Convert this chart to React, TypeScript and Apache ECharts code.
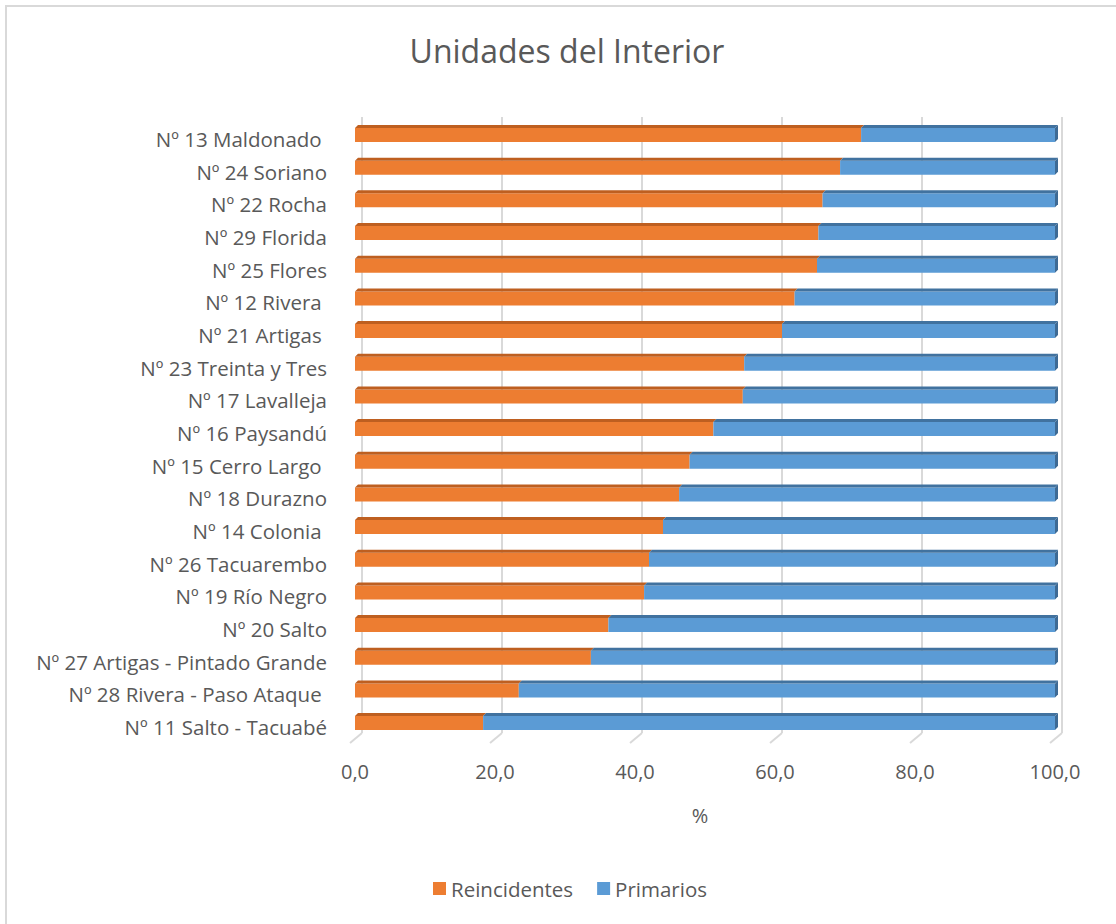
import React, { useEffect, useRef } from "react";
import * as echarts from "echarts";

const categories = [
  "Nº 13 Maldonado ",
  "Nº 24 Soriano",
  "Nº 22 Rocha",
  "Nº 29 Florida",
  "Nº 25 Flores",
  "Nº 12 Rivera ",
  "Nº 21 Artigas ",
  "Nº 23 Treinta y Tres",
  "Nº 17 Lavalleja",
  "Nº 16 Paysandú",
  "Nº 15 Cerro Largo ",
  "Nº 18 Durazno",
  "Nº 14 Colonia ",
  "Nº 26 Tacuarembo",
  "Nº 19 Río Negro",
  "Nº 20 Salto",
  "Nº 27 Artigas - Pintado Grande",
  "Nº 28 Rivera - Paso Ataque ",
  "Nº 11 Salto - Tacuabé",
];

const reincidentes = [72.3, 69.3, 66.8, 66.2, 66.0, 62.8, 61.0, 55.6, 55.4, 51.2, 47.8, 46.3, 44.0, 42.0, 41.3, 36.2, 33.7, 23.4, 18.3];
const primarios = [27.7, 30.7, 33.2, 33.8, 34.0, 37.2, 39.0, 44.4, 44.6, 48.8, 52.2, 53.7, 56.0, 58.0, 58.7, 63.8, 66.3, 76.6, 81.7];

const xTicks = [0, 20, 40, 60, 80, 100];

const seriesNames = ["Reincidentes", "Primarios"];
const colors = ["#ED7D31", "#5B9BD5"];
const topColors = ["#BE5F20", "#41729F"];
const sideColor = "#3E6A94";
const textColor = "#595959";
const fontFamily = "'Open Sans', 'Noto Sans', sans-serif";

export default function App() {
  const ref = useRef<HTMLDivElement>(null);
  useEffect(() => {
    if (!ref.current) return;
    const chart = echarts.init(ref.current, undefined, { renderer: "svg" });
    const barData = categories.map((_, i) => [i, reincidentes[i], primarios[i]]);
    const FRONT_H = 14;
    const D = 3;
    chart.setOption({
      animation: false,
      backgroundColor: "#ffffff",
      textStyle: { fontFamily },
      title: {
        text: "Unidades del Interior",
        left: 562,
        top: 29,
        textAlign: "center",
        textStyle: { fontFamily, fontSize: 32, fontWeight: "normal", color: textColor },
      },
      legend: {
        data: seriesNames,
        left: 428,
        top: 873,
        itemWidth: 13,
        itemHeight: 13,
        itemGap: 24,
        icon: "rect",
        textStyle: { fontFamily, fontSize: 20.5, color: textColor, padding: [0, 0, 0, 0] },
      },
      grid: [
        { left: 355, width: 700, top: 122.7, height: 620.7, containLabel: false },
        { left: 362, width: 700, top: 117, height: 616, containLabel: false },
      ],
      xAxis: [
        {
          gridIndex: 0,
          type: "value",
          min: 0,
          max: 100,
          interval: 20,
          axisLine: { show: false },
          axisTick: { show: false },
          splitLine: { show: false },
          axisLabel: {
            margin: 18,
            fontSize: 20,
            fontFamily,
            color: textColor,
            formatter: (v: number) => v.toFixed(1).replace(".", ","),
          },
          name: "%",
          nameLocation: "middle",
          nameGap: 62,
          nameTextStyle: { fontSize: 20, fontFamily, color: textColor, padding: [0, 10, 0, 0] },
        },
        {
          gridIndex: 1,
          type: "value",
          min: 0,
          max: 100,
          interval: 20,
          axisLine: { show: false },
          axisTick: { show: false },
          axisLabel: { show: false },
          splitLine: { show: true, lineStyle: { color: "#D9D9D9", width: 2 } },
        },
      ],
      yAxis: [
        {
          gridIndex: 0,
          type: "category",
          data: categories,
          inverse: true,
          axisLine: { show: false },
          axisTick: { show: false },
          axisLabel: { margin: 28, fontSize: 20.5, fontFamily, color: textColor },
        },
        {
          gridIndex: 1,
          type: "value",
          min: 0,
          max: 1,
          show: false,
        },
      ],
      series: [
        {
          name: seriesNames[0],
          type: "custom",
          xAxisIndex: 1,
          yAxisIndex: 1,
          silent: true,
          data: xTicks.map((v) => [v, 0]),
          renderItem: (params: any, api: any) => {
            const p = api.coord([api.value(0), 0]);
            return {
              type: "line",
              shape: { x1: p[0], y1: p[1], x2: p[0] - 12, y2: p[1] + 10 },
              style: { stroke: "#D9D9D9", lineWidth: 2 },
            };
          },
          itemStyle: { color: colors[0] },
          legendHoverLink: false,
        },
        {
          name: seriesNames[0],
          type: "custom",
          xAxisIndex: 0,
          yAxisIndex: 0,
          data: barData,
          itemStyle: { color: colors[0] },
          renderItem: (params: any, api: any) => {
            const idx = api.value(0);
            const r = api.value(1);
            const pr = api.value(2);
            const yc = api.coord([0, idx])[1];
            const x0 = api.coord([0, idx])[0];
            const x1 = api.coord([r, idx])[0];
            const x2 = api.coord([r + pr, idx])[0];
            const yTop = yc - 11;
            const yBot = yTop + FRONT_H;
            const children: any[] = [
              {
                type: "rect",
                shape: { x: x0, y: yTop, width: x1 - x0, height: FRONT_H },
                style: { fill: colors[0] },
              },
              {
                type: "polygon",
                shape: { points: [[x0, yTop], [x0 + D, yTop - D], [x1 + D, yTop - D], [x1, yTop]] },
                style: { fill: topColors[0] },
              },
              {
                type: "rect",
                shape: { x: x1, y: yTop, width: x2 - x1, height: FRONT_H },
                style: { fill: colors[1] },
              },
              {
                type: "polygon",
                shape: { points: [[x1, yTop], [x1 + D, yTop - D], [x2 + D, yTop - D], [x2, yTop]] },
                style: { fill: topColors[1] },
              },
              {
                type: "polygon",
                shape: { points: [[x2, yTop], [x2 + D, yTop - D], [x2 + D, yBot - D], [x2, yBot]] },
                style: { fill: sideColor },
              },
            ];
            return { type: "group", children };
          },
        },
        {
          name: seriesNames[1],
          type: "custom",
          xAxisIndex: 0,
          yAxisIndex: 0,
          data: [],
          itemStyle: { color: colors[1] },
          renderItem: () => ({ type: "group", children: [] }),
        },
      ],
      graphic: [
        {
          type: "rect",
          shape: { x: 6, y: 6, width: 1200, height: 1000 },
          style: { fill: "none", stroke: "#D9D9D9", lineWidth: 2 },
          silent: true,
        },
      ],
    });
    return () => chart.dispose();
  }, []);
  return (
    <div
      ref={ref}
      style={{ position: "absolute", left: 0, top: 0, width: 1116, height: 924 }}
    />
  );
}
